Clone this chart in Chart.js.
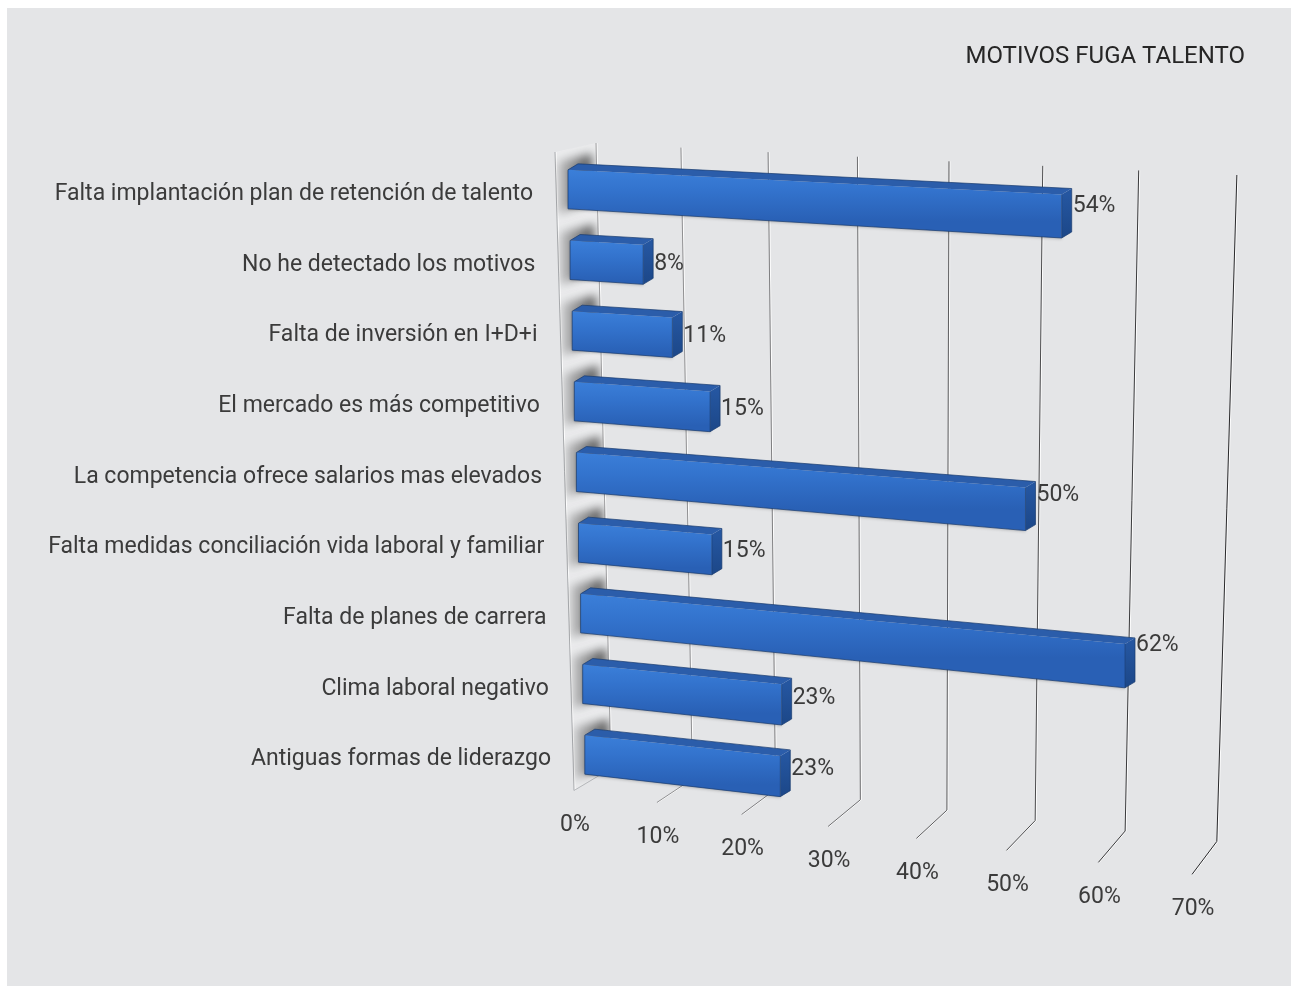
<!DOCTYPE html>
<html lang="es">
<head>
<meta charset="utf-8">
<title>Motivos fuga talento</title>
<script src="https://cdn.jsdelivr.net/npm/chart.js@4.4.1/dist/chart.umd.min.js"></script>
<style>
  html, body { margin: 0; padding: 0; background: #fff; overflow: hidden; }
  #fondo { position: absolute; left: 7px; top: 8px; right: 0; bottom: 0; background: #e4e5e7; }
  #grafico { position: absolute; left: 0; top: 0; }
</style>
</head>
<body>
<div id="fondo"></div>
<canvas id="grafico" width="1291" height="986"></canvas>
<script>
// ── Datos ────────────────────────────────────────────────
const titulo = 'MOTIVOS FUGA TALENTO';
const motivos = [
    'Falta implantación plan de retención de talento',
    'No he detectado los motivos',
    'Falta de inversión en I+D+i',
    'El mercado es más competitivo',
    'La competencia ofrece salarios mas elevados',
    'Falta medidas conciliación vida laboral y familiar',
    'Falta de planes de carrera',
    'Clima laboral negativo',
    'Antiguas formas de liderazgo',
];
const porcentajes = [54, 8, 11, 15, 50, 15, 62, 23, 23];
const marcasEje   = [0, 10, 20, 30, 40, 50, 60, 70];

const FUENTE        = '23px Roboto, "Open Sans", sans-serif';
const FUENTE_TITULO = '24px Roboto, "Open Sans", sans-serif';
const TEXTO  = '#3b3b3b';

// ── Perspectiva ──────────────────────────────────────────
// p = distancia en px desde el 0% según la escala x de Chart.js
function paredArriba(ca, x0, p) { return { x: x0 + 28 + 0.917 * p + 1.318e-4 * p * p, y: ca.top - 11 + 0.05 * p }; }
function paredAbajo(ca, x0, p)  { return { x: x0 + 43 + 0.881 * p + 1.025e-4 * p * p, y: ca.bottom - 21.5 + 0.114 * p }; }
function suelo(ca, x0, p)       { return { x: x0 + 6 + 0.897 * p + 1.074e-4 * p * p, y: ca.bottom + 0.5 + 0.131 * p }; }

function poly(ctx, pts) {
    ctx.beginPath();
    ctx.moveTo(pts[0][0], pts[0][1]);
    for (let i = 1; i < pts.length; i++) ctx.lineTo(pts[i][0], pts[i][1]);
    ctx.closePath();
}

function linea(ctx, a, b, color, ancho) {
    ctx.beginPath();
    ctx.moveTo(a.x, a.y); ctx.lineTo(b.x, b.y);
    ctx.strokeStyle = color; ctx.lineWidth = ancho || 1;
    ctx.stroke();
}

// geometría de cada barra: se apoya en la posición que calcula Chart.js
function barra3d(chart, bar, i) {
    const x0 = chart.scales.x.getPixelForValue(0);
    const xa = x0 + 2.1 * i;
    const k  = 1 - 0.0011 * i * i;
    const xb = xa + (bar.x - x0) * k;
    const sT = 0.05 + 0.007 * i, sB = sT + 0.009;
    const h  = 39, c = bar.y, dx = xb - xa;
    return {
        xa, xb, c, dx, sT,
        tl: [xa, c - h / 2], tr: [xb, c - h / 2 + sT * dx],
        br: [xb, c + h / 2 + sB * dx], bl: [xa, c + h / 2],
        d: [10, -6],
    };
}

function paredPts(chart) {
    const ca = chart.chartArea;
    const x0 = chart.scales.x.getPixelForValue(0);
    const at = paredArriba(ca, x0, 0), ab = paredAbajo(ca, x0, 0), s = suelo(ca, x0, 0);
    return [[x0 - 13, ca.top - 2], [s.x, s.y], [ab.x, ab.y], [at.x, at.y]];
}

const escena3d = {
    id: 'escena3d',
    beforeDatasetsDraw(chart) {
        const ctx = chart.ctx, ca = chart.chartArea;
        const xs = chart.scales.x, ys = chart.scales.y;
        const x0 = xs.getPixelForValue(0);
        ctx.save();

        // título
        ctx.font = FUENTE_TITULO; ctx.fillStyle = '#262626';
        ctx.textAlign = 'right'; ctx.textBaseline = 'middle';
        ctx.fillText(titulo, chart.width - 46, 57);

        // pared lateral
        const w = paredPts(chart);
        poly(ctx, w);
        ctx.fillStyle = 'rgba(255,255,255,0.25)';
        ctx.fill();
        linea(ctx, { x: w[0][0] + 1, y: w[0][1] }, { x: w[1][0] + 1, y: w[1][1] }, '#ffffff');
        linea(ctx, { x: w[0][0], y: w[0][1] }, { x: w[1][0], y: w[1][1] }, '#a9abae');
        linea(ctx, { x: w[1][0], y: w[1][1] }, { x: w[2][0], y: w[2][1] }, '#b5b7ba');

        // rejilla y líneas de suelo
        ctx.font = FUENTE;
        marcasEje.forEach(v => {
            const p = xs.getPixelForValue(v) - x0;
            const a = paredArriba(ca, x0, p), b = paredAbajo(ca, x0, p), s = suelo(ca, x0, p);
            const g = Math.round(160 - v * 1.7);
            const col = `rgb(${g},${g},${g + 2})`;
            linea(ctx, { x: a.x + 1, y: a.y }, { x: b.x + 1, y: b.y }, 'rgba(255,255,255,0.9)');
            linea(ctx, a, b, col);
            if (v > 0) {
                linea(ctx, { x: b.x + 1, y: b.y }, { x: s.x + 1, y: s.y }, 'rgba(255,255,255,0.9)');
                linea(ctx, b, s, col);
            }
            // etiquetas del eje, escalonadas sobre el suelo
            ctx.fillStyle = TEXTO; ctx.textAlign = 'center'; ctx.textBaseline = 'middle';
            ctx.fillText(v + '%', s.x + 1, s.y + 35);
        });

        // categorías
        ctx.textAlign = 'right';
        motivos.forEach((m, i) => {
            ctx.fillText(m, x0 - 35 + 2.25 * i, ys.getPixelForValue(i) + 5);
        });
        ctx.restore();
    },
    afterDatasetsDraw(chart) {
        const ctx = chart.ctx;
        const meta = chart.getDatasetMeta(0);
        ctx.save();

        // sombras de las barras sobre la pared
        const w = paredPts(chart);
        ctx.save();
        poly(ctx, w); ctx.clip();
        ctx.filter = 'blur(5px)';
        meta.data.forEach((bar, i) => {
            const b = barra3d(chart, bar, i);
            const gr = ctx.createLinearGradient(b.xa - 14, 0, b.xa + 22, 0);
            gr.addColorStop(0, 'rgba(50,50,50,0.15)');
            gr.addColorStop(1, 'rgba(50,50,50,0.8)');
            ctx.fillStyle = gr;
            poly(ctx, [[b.xa - 10, b.tl[1] - 8], [b.xa + 24, b.tl[1] - 16], [b.xa + 24, b.bl[1] - 8], [b.xa - 10, b.bl[1] + 6]]);
            ctx.fill();
        });
        ctx.restore();

        meta.data.forEach((bar, i) => {
            const b = barra3d(chart, bar, i);
            const [dX, dY] = b.d;

            // cara frontal
            ctx.save();
            ctx.shadowColor = 'rgba(0,0,0,0.25)';
            ctx.shadowBlur = 3; ctx.shadowOffsetY = 1;
            const gr = ctx.createLinearGradient(0, b.tl[1], 0, b.bl[1] + b.sT * b.dx / 2);
            gr.addColorStop(0, '#3b7fd9');
            gr.addColorStop(0.4, '#3373cd');
            gr.addColorStop(1, '#2960b5');
            poly(ctx, [b.tl, b.tr, b.br, b.bl]);
            ctx.fillStyle = gr; ctx.fill();
            ctx.restore();

            // cara superior
            poly(ctx, [b.tl, b.tr, [b.tr[0] + dX, b.tr[1] + dY], [b.tl[0] + dX, b.tl[1] + dY]]);
            ctx.fillStyle = '#2b5daa'; ctx.fill();

            // cara lateral
            poly(ctx, [b.tr, [b.tr[0] + dX, b.tr[1] + dY], [b.br[0] + dX, b.br[1] + dY], b.br]);
            const gl = ctx.createLinearGradient(0, b.tr[1], 0, b.br[1]);
            gl.addColorStop(0, '#2556a0');
            gl.addColorStop(1, '#1c4788');
            ctx.fillStyle = gl; ctx.fill();

            // contorno
            poly(ctx, [b.tl, [b.tl[0] + dX, b.tl[1] + dY], [b.tr[0] + dX, b.tr[1] + dY], [b.br[0] + dX, b.br[1] + dY], b.br, b.bl]);
            ctx.strokeStyle = 'rgba(24,58,110,0.7)'; ctx.lineWidth = 1; ctx.stroke();
            linea(ctx, { x: b.tr[0], y: b.tr[1] }, { x: b.br[0], y: b.br[1] }, 'rgba(24,58,110,0.6)');

            // valor
            ctx.font = FUENTE; ctx.fillStyle = TEXTO;
            ctx.textAlign = 'left'; ctx.textBaseline = 'middle';
            ctx.fillText(porcentajes[i] + '%', b.xb + dX + 1, b.c + 0.6 * b.sT * b.dx + 2);
        });
        ctx.restore();
    },
};

function dibujar() {
    new Chart(document.getElementById('grafico'), {
        type: 'bar',
        data: {
            labels: motivos,
            datasets: [{
                data: porcentajes,
                backgroundColor: 'rgba(0,0,0,0)',
                borderWidth: 0,
            }],
        },
        options: {
            responsive: false,
            animation: false,
            indexAxis: 'y',
            layout: { padding: { left: 568, right: 83, top: 154, bottom: 196 } },
            scales: {
                x: { min: 0, max: 70, display: false },
                y: { display: false },
            },
            plugins: { legend: { display: false }, tooltip: { enabled: false } },
        },
        plugins: [escena3d],
    });
}

if (document.fonts && document.fonts.load) {
    Promise.all([document.fonts.load(FUENTE), document.fonts.load(FUENTE_TITULO)]).then(dibujar, dibujar);
} else {
    dibujar();
}
</script>
</body>
</html>
